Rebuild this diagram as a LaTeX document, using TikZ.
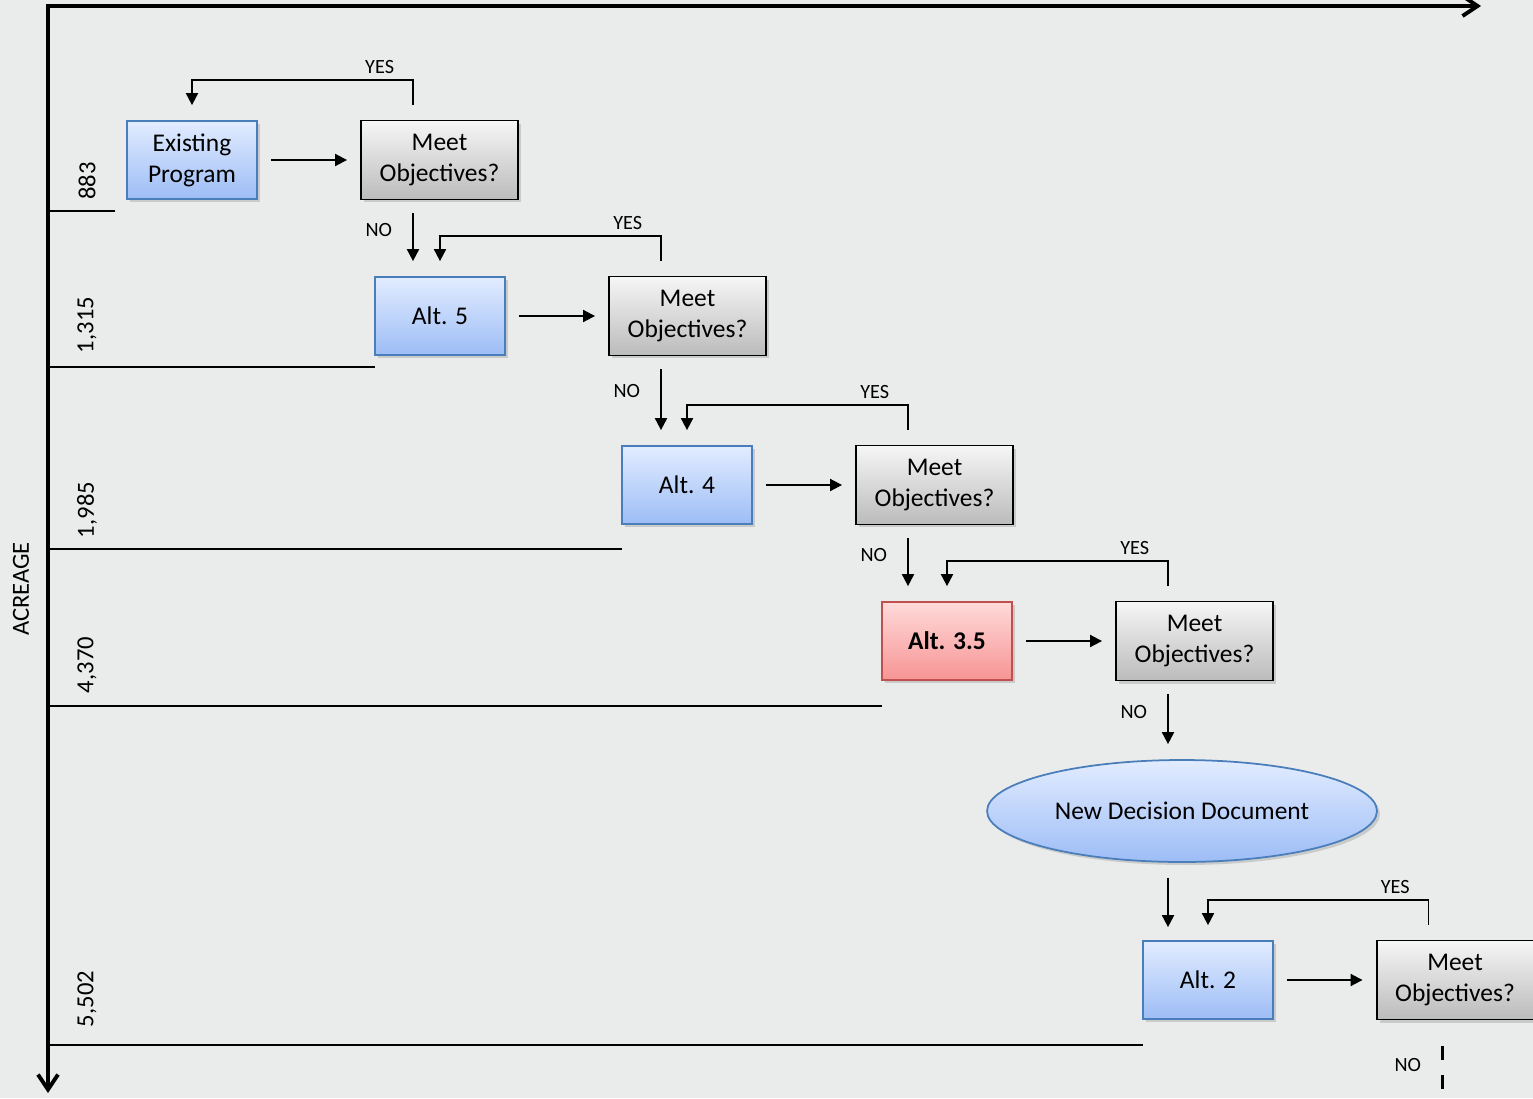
\documentclass[tikz,border=0pt]{standalone}
\usepackage{fontspec}
\setmainfont{Carlito}
\usepackage{tikz}
\usetikzlibrary{arrows.meta,positioning,shapes.geometric,shadows,calc}
\definecolor{cbg}{HTML}{EAECEB}
\definecolor{caltT}{HTML}{E2ECFF}
\definecolor{caltB}{HTML}{9DBDF6}
\definecolor{caltD}{HTML}{4A7EBB}
\definecolor{cmeetT}{HTML}{F6F6F6}
\definecolor{cmeetB}{HTML}{BBBBBB}
\definecolor{credT}{HTML}{FFDADA}
\definecolor{credB}{HTML}{F79494}
\definecolor{credD}{HTML}{C0504D}
\tikzset{
  fbox/.style={rectangle, align=center, inner sep=0pt,
               font=\fontsize{14.5}{17.6}\selectfont,
               drop shadow={opacity=0.3, shadow xshift=0.6mm, shadow yshift=-0.6mm}},
  nalt/.style={fbox, top color=caltT, bottom color=caltB, draw=caltD, line width=1pt,
               minimum width=2.6cm, minimum height=1.56cm},
  nred/.style={nalt, top color=credT, bottom color=credB, draw=credD,
               font=\fontsize{14.5}{17.6}\selectfont\bfseries},
  nmeet/.style={fbox, top color=cmeetT, bottom color=cmeetB, draw=black, line width=1.1pt,
               minimum width=3.14cm, minimum height=1.58cm},
  ndoc/.style={nalt, ellipse, minimum width=7.8cm, minimum height=2.04cm},
  flow/.style={-{Triangle[length=2.4mm,width=2.4mm]}, line width=1.1pt},
  flowh/.style={flow, shorten <=2.7mm, shorten >=2.6mm},
  flowd/.style={line width=1.7pt, dash pattern=on 2.8mm off 3mm},
  axis/.style={{Straight Barb[length=3mm,width=4mm]}-{Straight Barb[length=3mm,width=4mm]},
               line width=2.2pt},
  rule/.style={line width=1pt},
  lbl/.style={font=\fontsize{11.5}{13}\selectfont, inner sep=0pt},
  axl/.style={font=\fontsize{14}{16}\selectfont, inner sep=0pt, rotate=90},
}
\begin{document}
\begin{tikzpicture}[x=0.02cm, y=-0.02cm]
  \fill[cbg] (0,0) rectangle (1533,1098);
  \useasboundingbox (0,0) rectangle (1533,1098);

  % axes and acreage bands
  \coordinate (o) at (48,6);
  \draw[axis] (48,1093) -- (o) -- (1481,6);
  \foreach \y/\x in {211/115,367/375,549/622,706/882,1045/1143}
    \draw[rule] (48,\y) -- (\x,\y);
  \foreach \y/\t in {181/883,325/{1,315},510/{1,985},665/{4,370},999/{5,502}}
    \node[axl] (ac\y) at (87,\y) {\t};
  \node[axl] (acreage) at (21,589) {ACREAGE};

  % boxes
  \node[nalt]  (ex)  at (192,160)    {Existing\\Program};
  \node[nmeet] (m1)  at (439.5,160)  {Meet\\Objectives?};
  \node[nalt]  (a5)  at (440,316)    {Alt. 5};
  \node[nmeet] (m2)  at (687.5,316)  {Meet\\Objectives?};
  \node[nalt]  (a4)  at (687,485)    {Alt. 4};
  \node[nmeet] (m3)  at (934.5,485)  {Meet\\Objectives?};
  \node[nred]  (a35) at (947,641)    {Alt. 3.5};
  \node[nmeet] (m4)  at (1194.5,641) {Meet\\Objectives?};
  \node[ndoc]  (nd)  at (1182,811)   {New Decision Document};
  \node[nalt]  (a2)  at (1208,980)   {Alt. 2};
  \node[nmeet] (m5)  at (1455,980)   {Meet\\Objectives?};

  % flows
  \foreach \p/\q in {ex/m1,a5/m2,a4/m3,a35/m4,a2/m5}
    \draw[flowh] (\p) -- (\q);
  \foreach \p/\q in {m1/ex,m2/a5,m3/a4,m4/a35,m5/a2}
    \draw[flow] ($(\p.north)+(-26.5,-15)$) -- ++(0,-25)
      node[lbl, anchor=south east, xshift=-3.6mm, yshift=1mm] {YES}
      -| ($(\q.north)+(0,-15)$);
  \foreach \p/\q in {m1/a5,m2/a4,m3/a35,m4/nd}
    \draw[flow] ($(\p.south)+(-26.5,13)$) -- ($(\p.south |- \q.north)+(-26.5,-15)$)
      node[lbl, pos=0.35, anchor=east, xshift=-4mm] {NO};
  \draw[flow] ($(nd.south)+(-14,15)$) -- ($(a2.north)+(-40,-13)$);
  \draw[flowd] ($(m5.south)+(-12.5,26)$) -- ++(0,44)
    node[lbl, pos=0.43, anchor=east, xshift=-4mm] {NO};
\end{tikzpicture}
\end{document}
